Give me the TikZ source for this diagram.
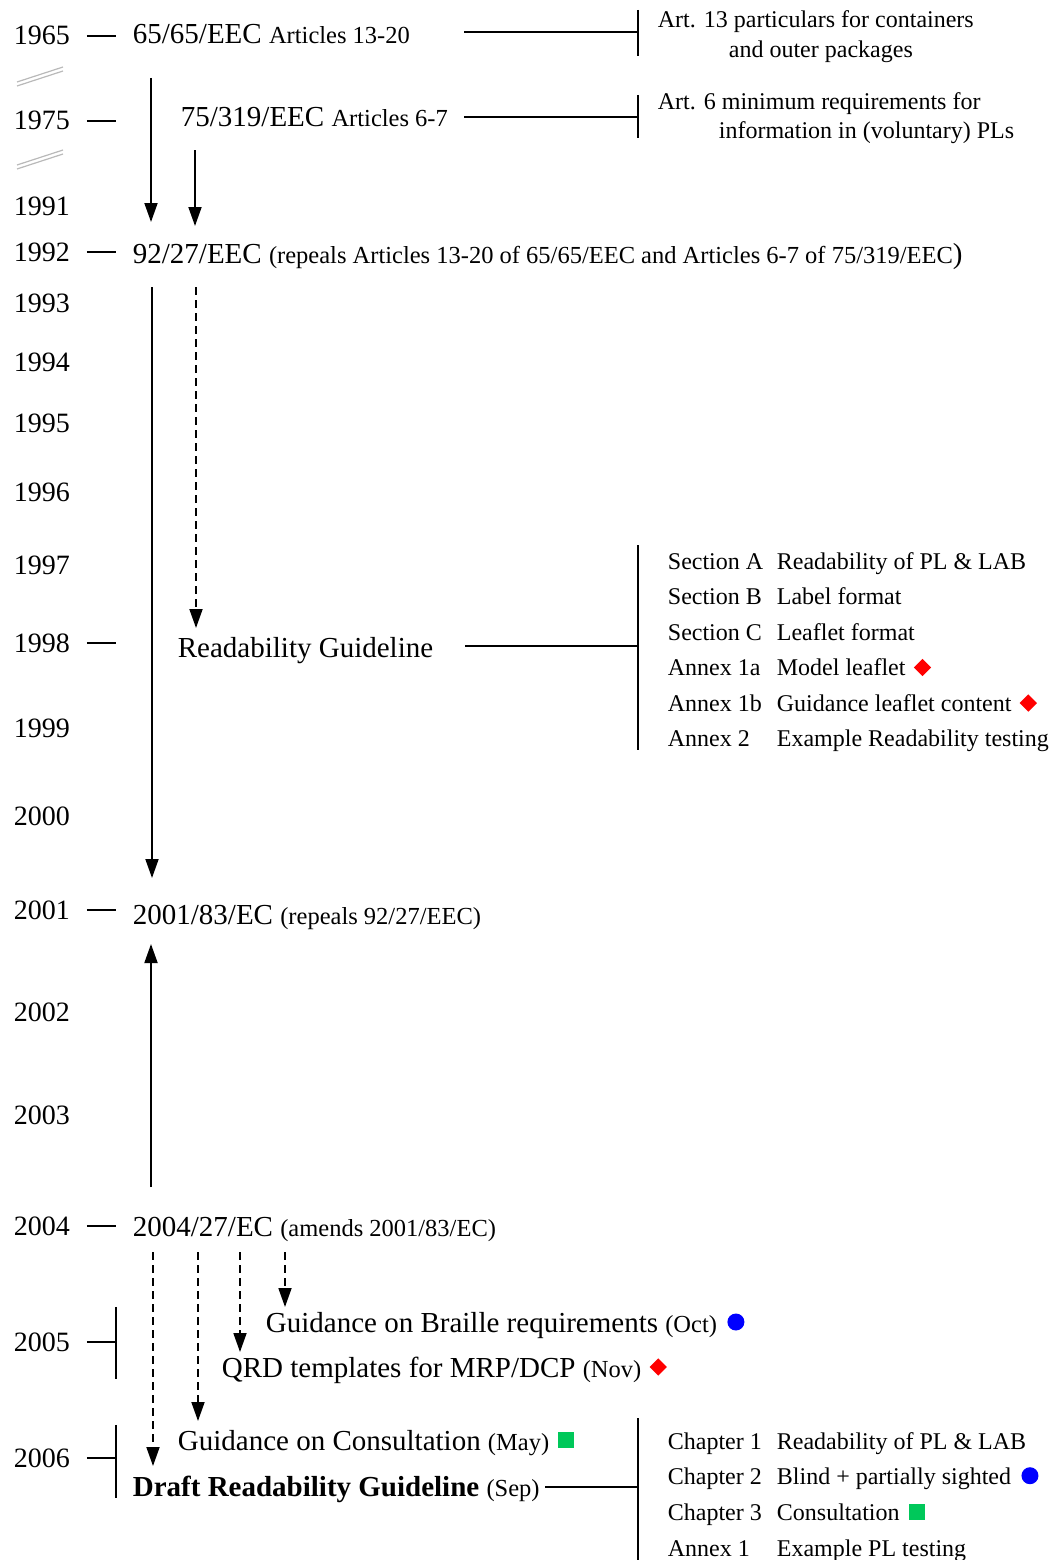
\documentclass[tikz,border=0pt]{standalone}
\usepackage{fontspec}
\setmainfont{Liberation Serif}
\usepackage{xcolor}
\usetikzlibrary{
  positioning,
  shapes.geometric,
  arrows.meta
}
\newcommand\yrfont{\fontsize{28}{30}\selectfont}
\newcommand\docfont{\fontsize{29}{32}\selectfont}
\newcommand\smfont{\fontsize{24.5}{27}\selectfont}
\newcommand\lstfont{\fontsize{24}{27}\selectfont}
\definecolor{mkgreen}{RGB}{0,200,90}
\tikzset{
  year/.style={anchor=base west,inner sep=0pt,font=\yrfont},
  doc/.style={anchor=base west,inner sep=0pt,font=\docfont},
  note/.style={anchor=base west,inner sep=0pt,font=\lstfont},
  reddia/.style={diamond,fill=red,inner sep=0pt,minimum size=18pt},
  bluedot/.style={circle,fill=blue,inner sep=0pt,minimum size=17pt},
  greensq/.style={rectangle,fill=mkgreen,inner sep=0pt,minimum size=16pt},
  brk/.style={gray!55,line width=1.2pt},
  dashln/.style={dash pattern=on 8pt off 5pt}
}

\begin{document}
\begin{tikzpicture}[x=1pt,y=-1pt,line width=1.8pt,>={Triangle[length=19pt,width=13pt]}]
  \useasboundingbox (0,0) rectangle (1057,1560);
  % years
  \foreach \yr/\yb in {1965/45,1975/130,1991/215,1992/261,1993/312,1994/371,1995/432,1996/501,
      1997/574,1998/652,1999/737,2000/825,2001/919,2002/1021,2003/1124,2004/1235,2005/1351,2006/1467}
    \node[year] (y\yr) at (13,\yb) {\yr};
  \foreach \yr in {1965,1975,1992,1998,2001,2004,2005,2006}
    \draw ([xshift=16pt]y\yr.east) -- ([xshift=45pt]y\yr.east);
  \draw ([xshift=45pt,yshift=35pt]y2005.east) -- ([xshift=45pt,yshift=-37pt]y2005.east);
  \draw ([xshift=45pt,yshift=33pt]y2006.east) -- ([xshift=45pt,yshift=-40pt]y2006.east);
  % gaps in the time line
  \draw[brk] (17,82) -- (63,67) (17,86) -- (63,71);
  \draw[brk] (17,165) -- (63,150) (17,169) -- (63,154);

  % directives
  \node[doc] (d65) at (132,44) {65/65/EEC {\smfont Articles 13-20}};
  \node[doc] (d75) at (180,127) {75/319/EEC {\smfont Articles 6-7}};
  \node[doc] (d92) at (132,263) {92/27/EEC {\smfont (repeals Articles 13-20 of 65/65/EEC and Articles 6-7 of 75/319/EEC})};
  \node[doc] (dRG) at (177,657) {Readability Guideline};
  \node[doc] (d01) at (132,924) {2001/83/EC {\smfont (repeals 92/27/EEC)}};
  \node[doc] (d04) at (132,1236) {2004/27/EC {\smfont (amends 2001/83/EC)}};
  \node[doc] (dBr) at (265,1332) {Guidance on Braille requirements {\smfont (Oct)}};
  \node[doc] (dQRD) at (221,1377) {QRD templates for MRP/DCP {\smfont (Nov)}};
  \node[doc] (dCons) at (177,1450) {Guidance on Consultation {\smfont (May)}};
  \node[doc] (dDr) at (132,1496) {\textbf{Draft Readability Guideline} {\smfont (Sep)}};

  \draw[->] ([xshift=19pt,yshift=-34pt]d65.base west) -- ([xshift=19pt,yshift=41pt]d92.base west);
  \draw[->] ([xshift=15pt,yshift=-23pt]d75.base west) -- ([xshift=63pt,yshift=37pt]d92.base west);
  \draw[->] ([xshift=20pt,yshift=-24pt]d92.base west) -- ([xshift=20pt,yshift=46pt]d01.base west);
  \draw[->,dashln] ([xshift=64pt,yshift=-24pt]d92.base west) -- ([xshift=19pt,yshift=29pt]dRG.base west);
  \draw[->] ([xshift=19pt,yshift=49pt]d04.base west) -- ([xshift=19pt,yshift=-20pt]d01.base west);
  \draw[->,dashln] ([xshift=21pt,yshift=-16pt]d04.base west) -- ([xshift=21pt,yshift=30pt]dDr.base west);
  \draw[->,dashln] ([xshift=66pt,yshift=-16pt]d04.base west) -- ([xshift=21pt,yshift=29pt]dCons.base west);
  \draw[->,dashln] ([xshift=108pt,yshift=-16pt]d04.base west) -- ([xshift=19pt,yshift=25pt]dQRD.base west);
  \draw[->,dashln] ([xshift=153pt,yshift=-16pt]d04.base west) -- ([xshift=20pt,yshift=25pt]dBr.base west);

  % contents
  \coordinate (b65) at (638,32);
  \coordinate (b75) at (638,117);
  \coordinate (bRG) at (638,646);
  \coordinate (bDr) at (638,1487);
  \draw (b65) -- ([xshift=53pt]b65 -| d65.east);
  \draw (b65) +(0,-22) -- +(0,24);
  \draw (b75) -- ([xshift=15pt]b75 -| d75.east);
  \draw (b75) +(0,-22) -- +(0,21);
  \draw (bRG) -- ([xshift=31pt]bRG -| dRG.east);
  \draw (bRG) +(0,-101) -- +(0,104);
  \draw (bDr) -- ([xshift=4pt]bDr -| dDr.east);
  \draw (bDr) +(0,-69) -- +(0,80);

  \node[note] (a13a) at (657,28) {Art. 13 particulars for containers};
  \node[note] (a13b) at (728,58) {and outer packages};
  \node[note] (a6a) at (657,110) {Art. 6 minimum requirements for};
  \node[note] (a6b) at (718,139) {information in (voluntary) PLs};

  \foreach \a/\b [count=\i] in {Section A/Readability of PL \& LAB,Section B/Label format,
      Section C/Leaflet format,Annex 1a/Model leaflet,Annex 1b/Guidance leaflet content,
      Annex 2/Example Readability testing}{
    \node[note] (sa\i) at (667,533.5+35.5*\i) {\a};
    \node[note] (sb\i) at (776,533.5+35.5*\i) {\b};
  }
  \foreach \a/\b [count=\i] in {Chapter 1/Readability of PL \& LAB,Chapter 2/Blind + partially sighted,
      Chapter 3/Consultation,Annex 1/Example PL testing}{
    \node[note] (ca\i) at (667,1413.3+35.7*\i) {\a};
    \node[note] (cb\i) at (776,1413.3+35.7*\i) {\b};
  }

  % markers
  \node[reddia] (m1) at ([shift={(16,-8)}]sb4.base east) {};
  \node[reddia] (m2) at ([shift={(16,-8)}]sb5.base east) {};
  \node[bluedot] (m3) at ([shift={(18,-10)}]dBr.base east) {};
  \node[reddia] (m4) at ([shift={(16,-10)}]dQRD.base east) {};
  \node[greensq] (m5) at ([shift={(16,-10)}]dCons.base east) {};
  \node[bluedot] (m6) at ([shift={(18,-9)}]cb2.base east) {};
  \node[greensq] (m7) at ([shift={(17,-8)}]cb3.base east) {};
\end{tikzpicture}
\end{document}
